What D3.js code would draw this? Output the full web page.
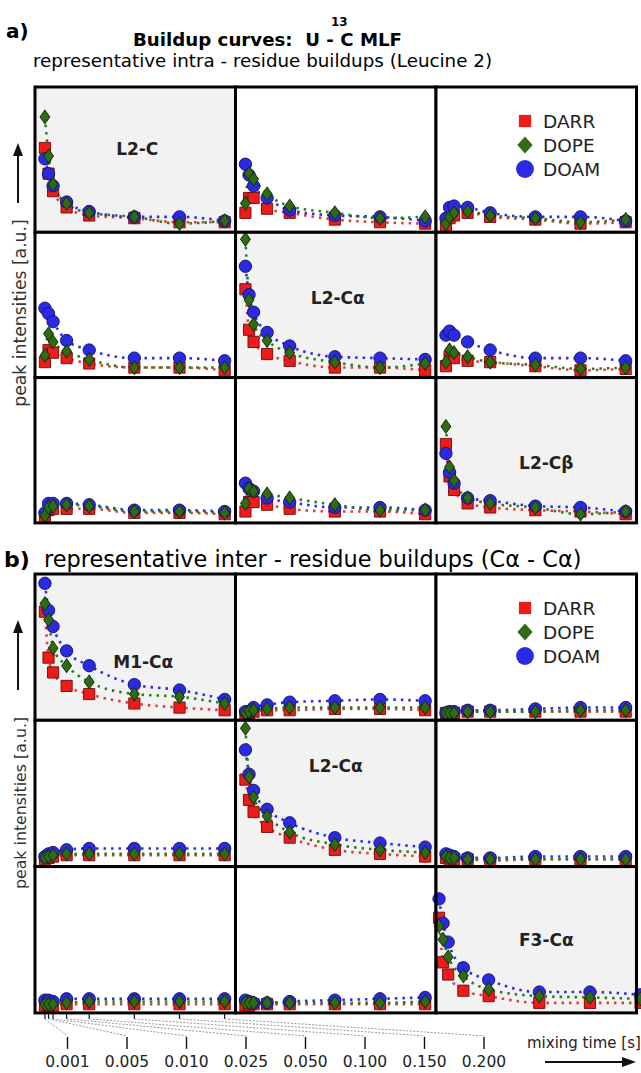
<!DOCTYPE html>
<html>
<head>
<meta charset="utf-8">
<script src="https://cdn.jsdelivr.net/npm/d3@7"></script>
<style>
  body { margin: 0; background: #fff; }
  svg { display: block; font-family: "DejaVu Sans", sans-serif; }
</style>
</head>
<body>
<div id="chart"></div>
<script>
// mixing times (s) and the tick labels under the plot
const mixTimes = [0.001, 0.005, 0.010, 0.025, 0.050, 0.100, 0.150, 0.200];
const tickLabels = ["0.001", "0.005", "0.010", "0.025", "0.050", "0.100", "0.150", "0.200"];
const seriesNames = ["DARR", "DOPE", "DOAM"];

// panel names (3x3 grid, row by row)
const labelsA = ["L2-C", "", "", "", "L2-C\u03b1", "", "", "", "L2-C\u03b2"];
const labelsB = ["M1-C\u03b1", "", "", "", "L2-C\u03b1", "", "", "", "F3-C\u03b1"];

// a) intra-residue buildups, relative peak intensity per panel
const darrA = [
  [0.58, 0.39, 0.26, 0.14, 0.08, 0.06, 0.03, 0.03],
  [0.10, 0.21, 0.21, 0.13, 0.10, 0.05, 0.03, 0.02],
  [0.00, 0.06, 0.08, 0.10, 0.07, 0.05, 0.02, 0.03],
  [0.07, 0.16, 0.14, 0.10, 0.06, 0.03, 0.03, 0.01],
  [0.61, 0.31, 0.22, 0.13, 0.08, 0.03, 0.03, 0.01],
  [0.04, 0.11, 0.10, 0.08, 0.07, 0.04, 0.01, 0.02],
  [0.00, 0.05, 0.06, 0.06, 0.06, 0.03, 0.03, 0.02],
  [0.04, 0.11, 0.11, 0.09, 0.06, 0.04, 0.04, 0.02],
  [0.54, 0.30, 0.20, 0.10, 0.07, 0.05, 0.04, 0.02]
];
const dopeA = [
  [0.81, 0.52, 0.31, 0.17, 0.10, 0.07, 0.02, 0.04],
  [0.17, 0.39, 0.35, 0.24, 0.15, 0.10, 0.06, 0.07],
  [0.02, 0.07, 0.10, 0.11, 0.08, 0.06, 0.03, 0.05],
  [0.12, 0.28, 0.22, 0.15, 0.09, 0.03, 0.03, 0.03],
  [0.98, 0.53, 0.35, 0.23, 0.14, 0.07, 0.03, 0.06],
  [0.07, 0.16, 0.14, 0.11, 0.07, 0.05, 0.02, 0.03],
  [0.01, 0.07, 0.08, 0.09, 0.08, 0.04, 0.04, 0.03],
  [0.10, 0.21, 0.19, 0.17, 0.14, 0.09, 0.05, 0.05],
  [0.67, 0.37, 0.27, 0.14, 0.10, 0.07, 0.02, 0.04]
];
const doamA = [
  [0.50, 0.39, 0.30, 0.18, 0.11, 0.07, 0.07, 0.04],
  [0.46, 0.38, 0.30, 0.21, 0.12, 0.08, 0.07, 0.04],
  [0.06, 0.14, 0.15, 0.14, 0.10, 0.07, 0.07, 0.04],
  [0.47, 0.43, 0.37, 0.23, 0.16, 0.10, 0.10, 0.08],
  [0.78, 0.57, 0.44, 0.29, 0.19, 0.11, 0.10, 0.09],
  [0.27, 0.30, 0.27, 0.22, 0.16, 0.10, 0.10, 0.08],
  [0.03, 0.10, 0.10, 0.10, 0.09, 0.05, 0.05, 0.04],
  [0.25, 0.21, 0.19, 0.14, 0.11, 0.07, 0.07, 0.05],
  [0.47, 0.33, 0.25, 0.14, 0.12, 0.08, 0.07, 0.04]
];

// b) inter-residue buildups (Ca - Ca)
const darrB = [
  [0.76, 0.42, 0.31, 0.21, 0.15, 0.08, 0.05, 0.03],
  [0.00, 0.01, 0.02, 0.03, 0.03, 0.04, 0.04, 0.03],
  [0.01, 0.01, 0.01, 0.02, 0.02, 0.02, 0.02, 0.02],
  [0.01, 0.02, 0.03, 0.04, 0.04, 0.04, 0.04, 0.04],
  [0.60, 0.45, 0.36, 0.25, 0.17, 0.08, 0.05, 0.03],
  [0.02, 0.01, 0.01, 0.01, 0.00, 0.01, 0.01, 0.01],
  [0.01, 0.01, 0.01, 0.02, 0.02, 0.02, 0.02, 0.02],
  [0.01, 0.01, 0.02, 0.02, 0.02, 0.02, 0.02, 0.02],
  [0.66, 0.33, 0.24, 0.12, 0.08, 0.03, 0.03, 0.03]
];
const dopeB = [
  [0.82, 0.70, 0.49, 0.36, 0.24, 0.15, 0.13, 0.08],
  [0.01, 0.02, 0.03, 0.04, 0.05, 0.05, 0.05, 0.05],
  [0.01, 0.01, 0.01, 0.02, 0.02, 0.02, 0.03, 0.03],
  [0.02, 0.03, 0.04, 0.05, 0.05, 0.05, 0.05, 0.05],
  [0.98, 0.62, 0.47, 0.33, 0.21, 0.12, 0.08, 0.06],
  [0.03, 0.02, 0.02, 0.01, 0.01, 0.01, 0.01, 0.01],
  [0.02, 0.02, 0.02, 0.03, 0.04, 0.04, 0.04, 0.04],
  [0.03, 0.03, 0.03, 0.03, 0.03, 0.03, 0.03, 0.04],
  [0.60, 0.50, 0.37, 0.23, 0.13, 0.08, 0.07, 0.06]
];
const doamB = [
  [0.97, 0.77, 0.65, 0.47, 0.36, 0.22, 0.18, 0.11],
  [0.02, 0.02, 0.05, 0.07, 0.09, 0.10, 0.11, 0.10],
  [0.01, 0.02, 0.02, 0.03, 0.03, 0.04, 0.05, 0.05],
  [0.03, 0.05, 0.06, 0.08, 0.09, 0.09, 0.09, 0.09],
  [0.82, 0.64, 0.52, 0.38, 0.28, 0.17, 0.13, 0.10],
  [0.05, 0.04, 0.03, 0.02, 0.02, 0.03, 0.03, 0.03],
  [0.05, 0.05, 0.04, 0.06, 0.06, 0.06, 0.06, 0.06],
  [0.05, 0.04, 0.03, 0.03, 0.04, 0.05, 0.06, 0.07],
  [0.80, 0.62, 0.48, 0.29, 0.20, 0.11, 0.11, 0.09]
];

// x range of the panels (the F3 panel was plotted on a slightly wider scale)
const xDomain = [-0.01, 0.212];
const xDomainF3 = [-0.002, 0.196];

// ---- layout / styles ----
const W = 641, H = 1073;
const gridX0 = 35, colW = 200.5;
const styles = {
  DARR: { fill: "#ee1b1b", stroke: "#6e0a0a", line: "#e53a3a", type: d3.symbolSquare, size: 125, sy: 1 },
  DOPE: { fill: "#2f6b14", stroke: "#13300a", line: "#2c7d1c", type: d3.symbolDiamond2, size: 62, sy: 1.4 },
  DOAM: { fill: "#2a2ae2", stroke: "#111166", line: "#2d2de8", type: d3.symbolCircle, size: 120, sy: 1 }
};
const drawOrder = ["DARR", "DOAM", "DOPE"];

const blocks = [
  { top: 87, rowH: 145.3, labels: labelsA, DARR: darrA, DOPE: dopeA, DOAM: doamA,
    yLab: 313, yLabSize: 17.2, arrow: [203, 143],
    labelPos: { 0: [0.51, 0.43], 4: [0.51, 0.455], 8: [0.55, 0.59] } },
  { top: 574, rowH: 146.3, labels: labelsB, DARR: darrB, DOPE: dopeB, DOAM: doamB,
    yLab: 803, yLabSize: 15.8, arrow: [690, 620],
    labelPos: { 0: [0.54, 0.60], 4: [0.50, 0.31], 8: [0.55, 0.50] } }
];

const svg = d3.select("#chart").append("svg")
  .attr("width", W).attr("height", H);

// titles
svg.append("text").attr("x", 6).attr("y", 38)
  .attr("font-size", 20).attr("font-weight", "bold").text("a)");
const title = svg.append("text").attr("x", 133).attr("y", 46)
  .attr("font-size", 18.2).attr("font-weight", "bold")
  .style("white-space", "pre").text("Buildup curves:  U - C MLF");
// the 13 sits above the C
const cIdx = title.text().indexOf("C MLF");
const cOff = title.node().getSubStringLength(0, cIdx);
svg.append("text").attr("x", 133 + cOff - 1).attr("y", 26).attr("text-anchor", "middle")
  .attr("font-size", 12).attr("font-weight", "bold").text("13");
svg.append("text").attr("x", 33).attr("y", 67)
  .attr("font-size", 18.3).text("representative intra - residue buildups (Leucine 2)");
svg.append("text").attr("x", 4).attr("y", 567)
  .attr("font-size", 22).attr("font-weight", "bold").text("b)");
svg.append("text").attr("x", 44).attr("y", 567)
  .attr("font-size", 22.4).text("representative inter - residue buildups (C\u03b1 - C\u03b1)");

const defs = svg.append("defs");

function arrowUp(x, yTail, yHead) {
  svg.append("line").attr("x1", x).attr("x2", x).attr("y1", yTail).attr("y2", yHead + 10)
    .attr("stroke", "#111").attr("stroke-width", 2);
  svg.append("path").attr("d", `M${x - 5},${yHead + 13}L${x},${yHead}L${x + 5},${yHead + 13}Z`)
    .attr("fill", "#111");
}

blocks.forEach((b, bi) => {
  svg.append("text")
    .attr("transform", `translate(26,${b.yLab}) rotate(-90)`)
    .attr("text-anchor", "middle").attr("font-size", b.yLabSize).attr("fill", "#333")
    .text("peak intensities [a.u.]");
  arrowUp(18, b.arrow[0], b.arrow[1]);

  for (let i = 0; i < 9; i++) {
    const row = Math.floor(i / 3), col = i % 3;
    const px = gridX0 + col * colW, py = b.top + row * b.rowH;
    const g = svg.append("g").attr("transform", `translate(${px},${py})`);
    const isDiag = row === col;

    g.append("rect").attr("width", colW).attr("height", b.rowH)
      .attr("fill", isDiag ? "#f2f2f2" : "#ffffff");

    const x = d3.scaleLinear()
      .domain(bi === 1 && i === 8 ? xDomainF3 : xDomain)
      .range([0, colW]);
    const y = d3.scaleLinear().domain([0, 1]).range([b.rowH - 6, b.rowH - 141]);

    const clipId = `clip-${bi}-${i}`;
    defs.append("clipPath").attr("id", clipId)
      .append("rect").attr("x", -6).attr("y", -6).attr("width", colW + 12).attr("height", b.rowH + 6);
    const plot = g.append("g").attr("clip-path", `url(#${clipId})`);

    // dotted buildup curves
    drawOrder.forEach(s => {
      const vals = b[s][i];
      const line = d3.line()
        .x((d, k) => x(mixTimes[k]))
        .y(d => y(d))
        .curve(d3.curveMonotoneX);
      plot.append("path").datum(vals)
        .attr("d", line)
        .attr("fill", "none")
        .attr("stroke", styles[s].line)
        .attr("stroke-width", 2.6)
        .attr("stroke-dasharray", "2.5,5");
    });

    // panel label
    if (b.labels[i]) {
      const lp = b.labelPos[i];
      g.append("text").attr("x", colW * lp[0]).attr("y", b.rowH * lp[1])
        .attr("text-anchor", "middle").attr("dominant-baseline", "central")
        .attr("font-size", 17).attr("font-weight", "bold").attr("fill", "#222")
        .text(b.labels[i]);
    }

    // legend in the top-right panel
    if (i === 2) {
      seriesNames.forEach((s, k) => {
        const st = styles[s];
        const ly = 34 + k * 24;
        const size = s === "DARR" ? 150 : s === "DOPE" ? 150 : 250;
        g.append("path")
          .attr("d", d3.symbol().type(st.type).size(size)())
          .attr("transform", `translate(89,${ly}) scale(1,${s === "DOPE" ? 1.12 : 1})`)
          .attr("fill", st.fill);
        g.append("text").attr("x", 107).attr("y", ly).attr("dominant-baseline", "central")
          .attr("font-size", 18.5).attr("fill", "#222").text(s);
      });
    }

    // borders under the markers
    g.append("rect").attr("width", colW).attr("height", b.rowH)
      .attr("fill", "none").attr("stroke", "#000").attr("stroke-width", 3);

    // markers
    drawOrder.forEach(s => {
      const st = styles[s];
      plot.selectAll(null).data(b[s][i]).enter().append("path")
        .attr("d", d3.symbol().type(st.type).size(st.size)())
        .attr("transform", (d, k) => `translate(${x(mixTimes[k])},${y(d)}) scale(1,${st.sy})`)
        .attr("fill", st.fill)
        .attr("stroke", st.stroke)
        .attr("stroke-width", 0.9 / Math.sqrt(st.sy));
    });

    // mixing-time axis hanging from the bottom-left panel of b)
    if (bi === 1 && i === 6) {
      const xt = d3.scalePoint().domain(tickLabels).range([67.5, 484]);
      const yb = b.top + 3 * b.rowH;
      const ax = svg.append("g");
      mixTimes.forEach((t, k) => {
        const xd = px + x(t);
        ax.append("line").attr("x1", xd).attr("x2", xd).attr("y1", yb).attr("y2", yb + 6)
          .attr("stroke", "#111").attr("stroke-width", 1.2);
        ax.append("line").attr("x1", xd).attr("y1", yb + 6)
          .attr("x2", xt(tickLabels[k])).attr("y2", yb + 23)
          .attr("stroke", "#999").attr("stroke-width", 1).attr("stroke-dasharray", "2,1.5");
      });
      ax.selectAll(".tk").data(tickLabels).enter().append("line")
        .attr("x1", d => xt(d)).attr("x2", d => xt(d))
        .attr("y1", yb + 24).attr("y2", yb + 36)
        .attr("stroke", "#111").attr("stroke-width", 1.4);
      ax.selectAll(".tl").data(tickLabels).enter().append("text")
        .attr("x", d => xt(d)).attr("y", yb + 54)
        .attr("text-anchor", "middle").attr("font-size", 15.5).attr("fill", "#222")
        .text(d => d);
    }
  }
});

// mixing time label + arrow
svg.append("text").attr("x", 527).attr("y", 1048)
  .attr("font-size", 15).attr("fill", "#222").text("mixing time [s]");
svg.append("line").attr("x1", 545).attr("x2", 626).attr("y1", 1062).attr("y2", 1062)
  .attr("stroke", "#111").attr("stroke-width", 2);
svg.append("path").attr("d", "M622,1057L636,1062L622,1067Z").attr("fill", "#111");
</script>
</body>
</html>
